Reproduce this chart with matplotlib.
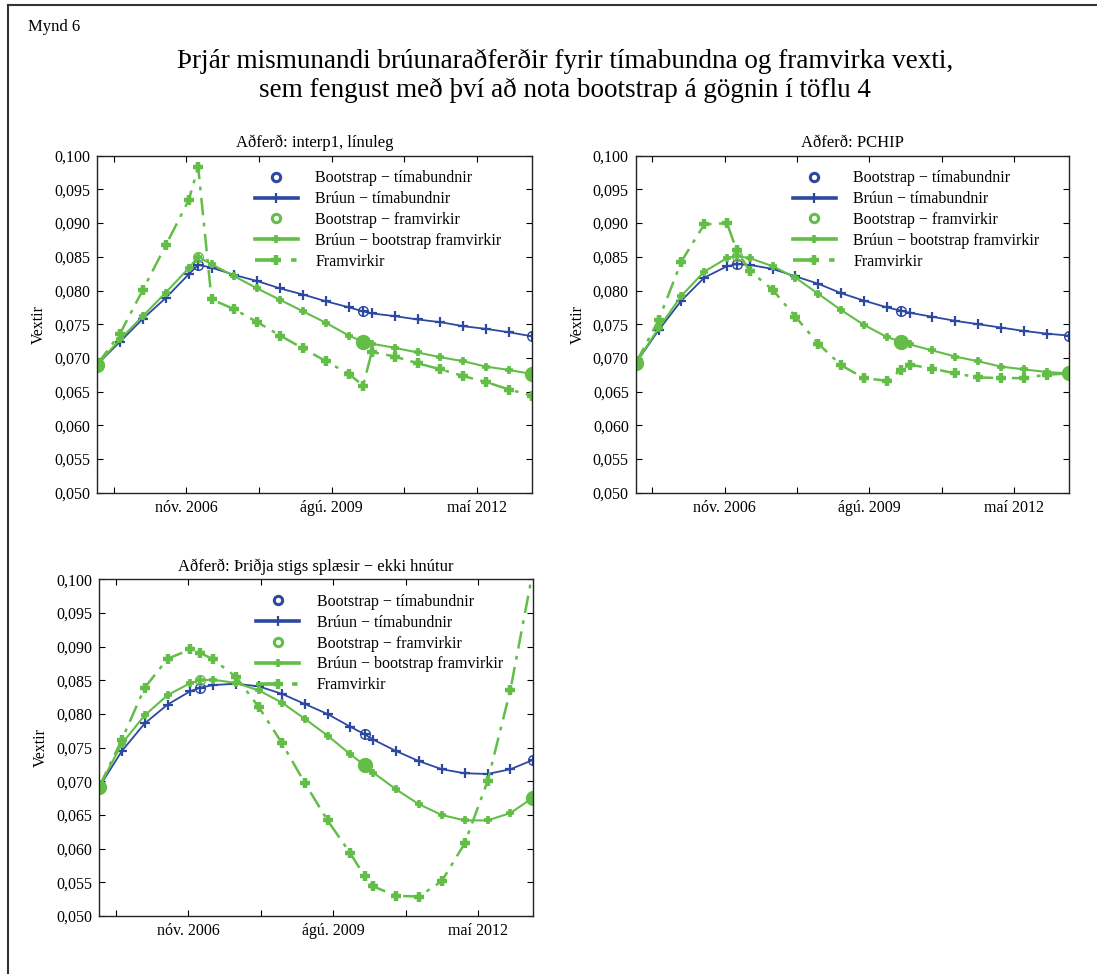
import matplotlib
matplotlib.use("Agg")
import matplotlib.pyplot as plt
from matplotlib.lines import Line2D

plt.rcParams['font.family'] = ['Liberation Serif', 'DejaVu Serif']
plt.rcParams['mathtext.fontset'] = 'stix'

# sameiginlegur tímaás (ártal sem tugabrot)
x = [2005.143, 2005.577, 2006.010, 2006.444, 2006.877, 2007.058, 2007.311,
     2007.745, 2008.178, 2008.612, 2009.045, 2009.479, 2009.913, 2010.182,
     2010.346, 2010.780, 2011.213, 2011.647, 2012.081, 2012.514, 2012.948,
     2013.381]
boot_idx = [0, 5, 13, 21]

xtick_pos = [2005.458, 2006.833, 2008.208, 2009.583, 2010.958, 2012.333]
xtick_lab = ['', 'nóv. 2006', '', 'ágú. 2009', '', 'maí 2012']
ytick_pos = [0.050, 0.055, 0.060, 0.065, 0.070, 0.075, 0.080, 0.085, 0.090, 0.095, 0.100]

# interp1, línuleg
lin_tima = [0.0690, 0.0724, 0.0758, 0.0789, 0.0824, 0.0838, 0.0834, 0.0823, 0.0814,
            0.0803, 0.0794, 0.0784, 0.0775, 0.0769, 0.0766, 0.0762, 0.0757, 0.0753,
            0.0747, 0.0743, 0.0738, 0.0732]
lin_bfram = [0.0690, 0.07275, 0.0762, 0.0797, 0.0833, 0.0850, 0.0839, 0.0821, 0.0803,
             0.0786, 0.0769, 0.0752, 0.0733, 0.0724, 0.0721, 0.0715, 0.0708, 0.0701,
             0.0695, 0.0687, 0.0682, 0.0676]
lin_fram = [0.0690, 0.0736, 0.0801, 0.0867, 0.0934, 0.0983, 0.0787, 0.0772, 0.0753,
            0.0733, 0.0714, 0.0695, 0.0676, 0.0659, 0.0709, 0.0702, 0.0692, 0.0683,
            0.0673, 0.0664, 0.0653, 0.0644]

# PCHIP
pch_tima = [0.0692, 0.0741, 0.0785, 0.0819, 0.0836, 0.0839, 0.0838, 0.0832, 0.0821,
            0.0810, 0.0796, 0.0785, 0.0775, 0.0770, 0.0767, 0.0761, 0.0755, 0.0750,
            0.0745, 0.0740, 0.0736, 0.0733]
pch_bfram = [0.0692, 0.0744, 0.0792, 0.0828, 0.0848, 0.0851, 0.0848, 0.0836, 0.0819,
             0.0795, 0.0771, 0.0749, 0.0731, 0.0724, 0.0720, 0.0711, 0.0702, 0.0695,
             0.0687, 0.0683, 0.0679, 0.0677]
pch_fram = [0.0692, 0.0756, 0.0843, 0.0898, 0.0900, 0.0860, 0.0829, 0.0801, 0.0761,
            0.0721, 0.0689, 0.0670, 0.0666, 0.0682, 0.0690, 0.0684, 0.0677, 0.0671,
            0.0670, 0.0670, 0.0675, 0.0677]

# þriðja stigs splæsir
spl_tima = [0.0691, 0.0745, 0.0786, 0.0814, 0.0834, 0.0839, 0.0843, 0.0845, 0.0841,
            0.0830, 0.0815, 0.0800, 0.0781, 0.0770, 0.0762, 0.0745, 0.0730, 0.0718,
            0.0712, 0.0711, 0.0718, 0.0732]
spl_bfram = [0.0691, 0.0756, 0.0798, 0.0828, 0.0846, 0.0850, 0.0851, 0.0846, 0.0835,
             0.0817, 0.0793, 0.0768, 0.0740, 0.0724, 0.0713, 0.0688, 0.0666, 0.0650,
             0.0642, 0.0642, 0.0653, 0.0676]
spl_fram = [0.0691, 0.0762, 0.0839, 0.0882, 0.0896, 0.0891, 0.0881, 0.0855, 0.0810,
            0.0757, 0.0698, 0.0642, 0.0593, 0.0559, 0.0544, 0.0530, 0.0529, 0.0552,
            0.0608, 0.0700, 0.0836, 0.1015]

BLUE = '#2c48a0'
GREEN = '#62be46'

fig = plt.figure(figsize=(10.97, 9.74), dpi=100)

# rammi efst og vinstra megin
fig.add_artist(Line2D([8/1097, 1.0], [1 - 5/974, 1 - 5/974], color='#333333', lw=1.5))
fig.add_artist(Line2D([8/1097, 8/1097], [1 - 5/974, 0.0], color='#333333', lw=1.5))

fig.text(28/1097, 1 - 27/974, 'Mynd 6', fontsize=12, va='center', ha='left')
fig.text(565/1097, 1 - 76/974,
         'Þrjár mismunandi brúunaraðferðir fyrir tímabundna og framvirka vexti,\n'
         'sem fengust með því að nota bootstrap á gögnin í töflu 4',
         fontsize=19.5, ha='center', va='center', linespacing=1.2)


def panel(rect, title, tima, bfram, fram):
    ax = fig.add_axes(rect)
    bx = [x[i] for i in boot_idx]
    bt = [tima[i] for i in boot_idx]
    bf = [bfram[i] for i in boot_idx]

    ax.plot(bx, bt, 'o', color=BLUE, mfc='none', ms=7, mew=1.0,
            label='Bootstrap − tímabundnir')
    ax.plot(x, tima, '-', color=BLUE, lw=1.3, marker='+', ms=7, mew=1.6,
            label='Brúun − tímabundnir')
    ax.plot(bx, bf, 'o', color=GREEN, mfc='none', ms=7, mew=1.0,
            label='Bootstrap − framvirkir')
    ax.plot([bx[0], bx[2], bx[3]], [bf[0], bf[2], bf[3]], 'o', color=GREEN, ms=10)
    ax.plot(x, bfram, '-', color=GREEN, lw=1.5, marker='+', ms=6, mew=2.6,
            label='Brúun − bootstrap framvirkir')
    ax.plot(x, fram, color=GREEN, lw=1.8, dashes=(7, 3, 1.5, 3), marker='+',
            ms=7, mew=3.2, label='Framvirkir')

    ax.set_xlim(x[0], x[-1])
    ax.set_ylim(0.050, 0.100)
    ax.set_xticks(xtick_pos)
    ax.set_xticklabels(xtick_lab)
    ax.set_yticks(ytick_pos)
    ax.set_yticklabels([('%.3f' % v).replace('.', ',') for v in ytick_pos])
    ax.tick_params(direction='in', length=4, width=0.8, top=True, right=True,
                   labelsize=11.5, pad=5)
    for s in ax.spines.values():
        s.set_linewidth(1.0)
        s.set_color('#222222')
    ax.set_ylabel('Vextir', fontsize=11.5, labelpad=5)
    ax.set_title(title, fontsize=12, pad=6)

    leg = ax.legend(loc='upper left', bbox_to_anchor=(0.34, 0.985), frameon=False,
                    fontsize=11.5, handlelength=2.7, labelspacing=0.3,
                    handletextpad=1.1, borderaxespad=0.2)
    for ln in leg.get_lines():
        if ln.get_linestyle() != 'None':
            ln.set_linewidth(2.6)
        else:
            ln.set_markeredgewidth(2.2)
            ln.set_markersize(6)
    return ax


panel([0.0885, 0.4942, 0.3965, 0.3459], 'Aðferð: interp1, línuleg',
      lin_tima, lin_bfram, lin_fram)
panel([0.5795, 0.4942, 0.3953, 0.3459], 'Aðferð: PCHIP',
      pch_tima, pch_bfram, pch_fram)
panel([0.0902, 0.0595, 0.3959, 0.3457], 'Aðferð: Þriðja stigs splæsir − ekki hnútur',
      spl_tima, spl_bfram, spl_fram)

fig.savefig('out.png', dpi=100)
